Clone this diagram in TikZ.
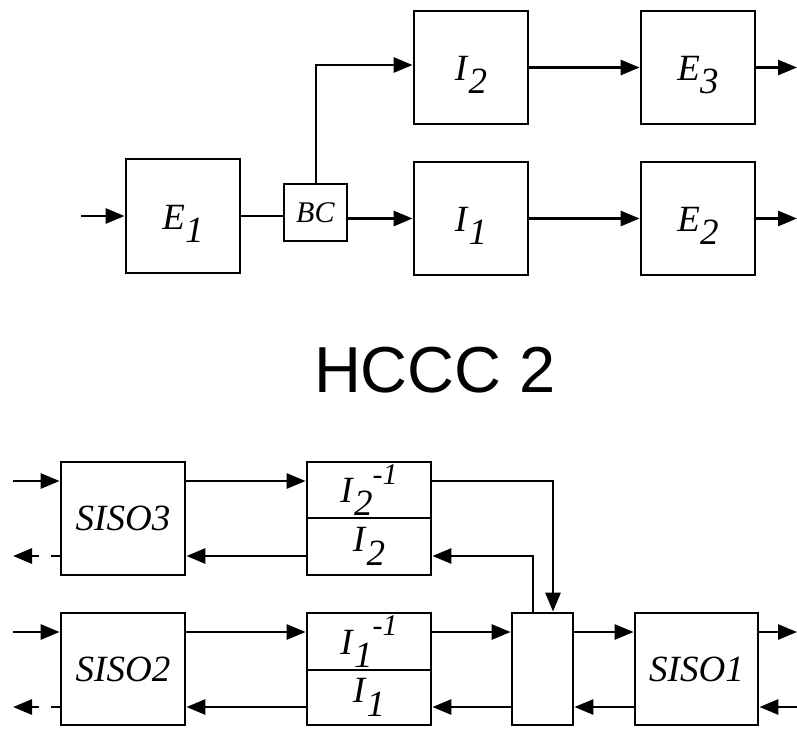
\documentclass[tikz,border=0pt]{standalone}
\usepackage{fontspec}
\setmainfont{Liberation Serif}
\newfontfamily\titlefont{Liberation Sans}
\usetikzlibrary{arrows.meta}
\newcommand{\sub}[2]{\textit{#1}\raisebox{-0.36em}{\textit{#2}}}
\newcommand{\subsup}[3]{\textit{#1}\raisebox{-0.35em}{\textit{#2}}\raisebox{0.5em}{\fontsize{30pt}{30pt}\selectfont\textit{#3}}}
\tikzset{
  blk/.style={draw, line width=2.8pt, rectangle, inner sep=0pt, fill=white},
  big/.style={font=\fontsize{37pt}{37pt}\selectfont, text height=30pt, text depth=4pt},
  mid/.style={font=\fontsize{37pt}{37pt}\selectfont},
  conn/.style={line width=2.8pt, -{Triangle[length=19pt,width=15pt]}},
  line/.style={line width=2.8pt},
  dconn/.style={line width=2.8pt, dash pattern=on 9pt off 12pt, -{Triangle[length=19pt,width=15pt]}}
}
\begin{document}
\begin{tikzpicture}[x=1pt,y=-1pt]
\useasboundingbox (0,0) rectangle (797,729);
% top diagram
\node[blk,big,minimum width=114pt,minimum height=114pt] (E1) at (183,216) {\sub{E}{1}};
\node[blk,minimum width=63pt,minimum height=57pt,font=\fontsize{30pt}{30pt}\selectfont] (BC) at (315.5,212.5) {\textit{BC}};
\node[blk,big,minimum width=114pt,minimum height=113pt] (I2t) at (471,67.5) {\sub{I}{2}};
\node[blk,big,minimum width=114pt,minimum height=113pt] (E3) at (698,67.5) {\sub{E}{3}};
\node[blk,big,minimum width=114pt,minimum height=113pt] (I1t) at (471,218.5) {\sub{I}{1}};
\node[blk,big,minimum width=114pt,minimum height=113pt] (E2) at (698,218.5) {\sub{E}{2}};
\coordinate (inE1) at (81,216);
\coordinate (outE3) at (797,67.5);
\coordinate (outE2) at (797,218.5);
\coordinate (bcup) at (316,65);
\draw[conn] (inE1) -- (E1.west |- inE1);
\draw[line] (E1.east |- inE1) -- (BC.west |- inE1);
\draw[conn] (BC.east |- I1t) -- (I1t.west);
\draw[conn] (BC.north -| bcup) -- (bcup) -- (I2t.west |- bcup);
\draw[conn] (I2t.east) -- (E3.west);
\draw[conn] (I1t.east) -- (E2.west);
\draw[conn] (E3.east) -- (outE3);
\draw[conn] (E2.east) -- (outE2);
% title
\node[anchor=base,font=\titlefont\fontsize{65pt}{65pt}\selectfont,inner sep=0pt] (title) at (435,392) {HCCC 2};
% bottom diagram
\node[blk,mid,minimum width=124pt,minimum height=113pt] (S3) at (123,518.5) {\textit{SISO3}};
\node[blk,mid,minimum width=124pt,minimum height=112pt] (S2) at (123,669) {\textit{SISO2}};
\node[blk,mid,minimum width=123pt,minimum height=112pt] (S1) at (696.5,669) {\textit{SISO1}};
\node[blk,minimum width=61pt,minimum height=112pt] (M) at (542.5,669) {};
\node[blk,mid,minimum width=124pt,minimum height=56pt] (I2i) at (369,490) {\subsup{I}{2}{-1}};
\node[blk,mid,minimum width=124pt,minimum height=57pt] (I2b) at (369,546.5) {\sub{I}{2}};
\node[blk,mid,minimum width=124pt,minimum height=57pt] (I1i) at (369,641.5) {\subsup{I}{1}{-1}};
\node[blk,mid,minimum width=124pt,minimum height=55pt] (I1b) at (369,697.5) {\sub{I}{1}};
\coordinate (a3in) at (13,481);
\coordinate (a3out) at (13,556);
\coordinate (a2in) at (13,632);
\coordinate (a2out) at (13,707);
\coordinate (a1out) at (797,632);
\coordinate (a1in) at (797,707);
\coordinate (c1) at (553,481);
\coordinate (c2) at (533,556);
\draw[conn] (a3in) -- (S3.west |- a3in);
\draw[conn] (S3.east |- a3in) -- (I2i.west |- a3in);
\draw[conn] (I2b.west |- a3out) -- (S3.east |- a3out);
\draw[dconn] (S3.west |- a3out) -- (a3out);
\draw[conn] (I2i.east |- c1) -- (c1) -- (M.north -| c1);
\draw[conn] (M.north -| c2) -- (c2) -- (I2b.east |- c2);
\draw[conn] (a2in) -- (S2.west |- a2in);
\draw[conn] (S2.east |- a2in) -- (I1i.west |- a2in);
\draw[conn] (I1i.east |- a2in) -- (M.west |- a2in);
\draw[conn] (M.east |- a2in) -- (S1.west |- a2in);
\draw[conn] (S1.east |- a1out) -- (a1out);
\draw[conn] (a1in) -- (S1.east |- a1in);
\draw[conn] (S1.west |- a1in) -- (M.east |- a1in);
\draw[conn] (M.west |- a1in) -- (I1b.east |- a1in);
\draw[conn] (I1b.west |- a2out) -- (S2.east |- a2out);
\draw[dconn] (S2.west |- a2out) -- (a2out);
\end{tikzpicture}
\end{document}
